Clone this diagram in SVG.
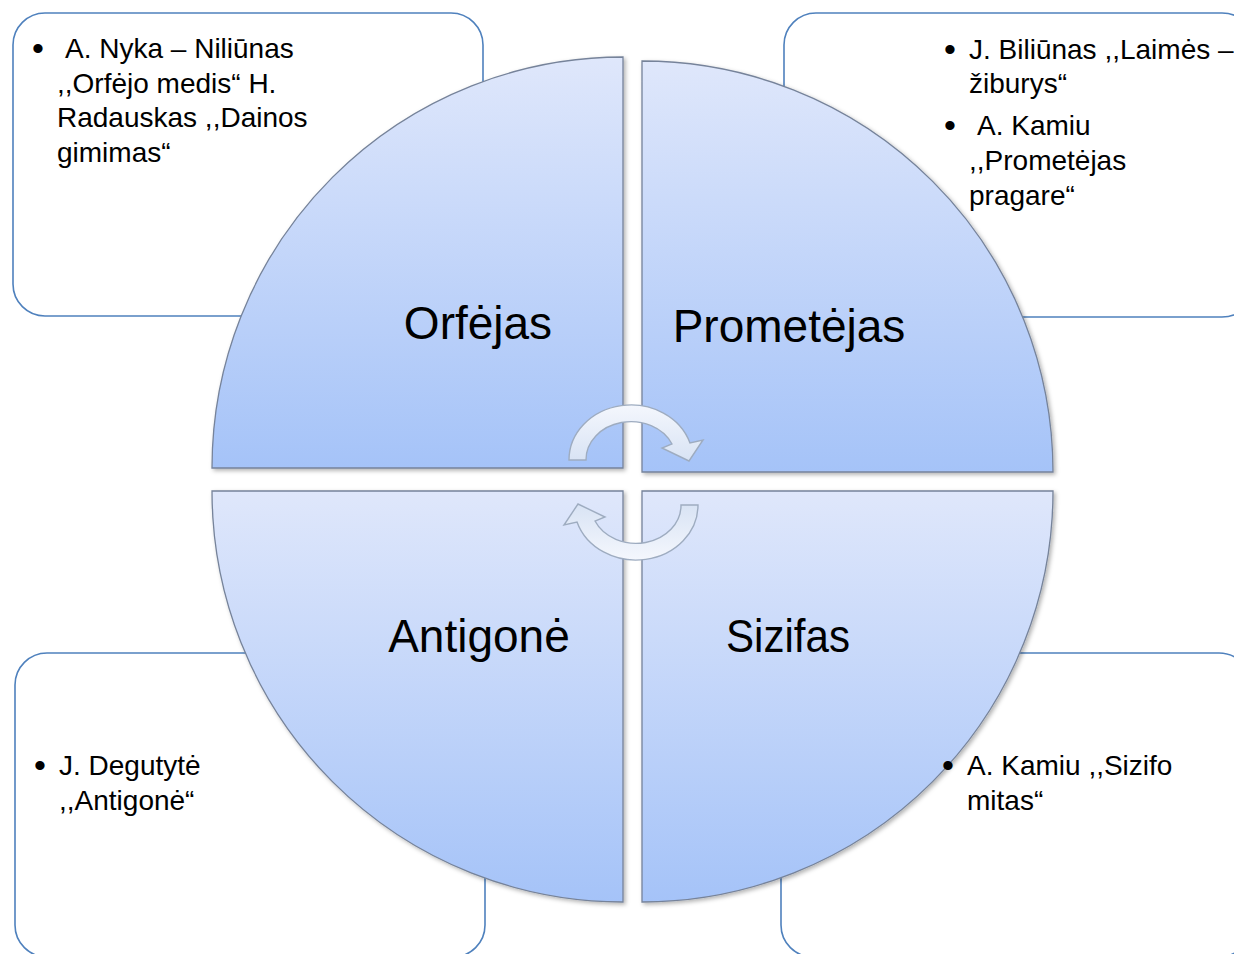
<svg xmlns="http://www.w3.org/2000/svg" width="1234" height="954" viewBox="0 0 1234 954">
<defs>
<linearGradient id="qg" x1="0" y1="0" x2="0" y2="1">
<stop offset="0" stop-color="#dfe7fb"/>
<stop offset="1" stop-color="#a5c3f8"/>
</linearGradient>
<linearGradient id="ag" x1="0" y1="0" x2="0" y2="1">
<stop offset="0" stop-color="#f4f7fd"/>
<stop offset="1" stop-color="#d8e3f4"/>
</linearGradient>
<filter id="sh" x="-5%" y="-5%" width="110%" height="110%">
<feDropShadow dx="2" dy="2" stdDeviation="2" flood-color="#000" flood-opacity="0.3"/>
</filter>
<style>
.box{fill:#fff;stroke:#4f81bd;stroke-width:1.6}
.q{fill:url(#qg);stroke:#76839a;stroke-width:1.3;filter:url(#sh)}
.arr{fill:url(#ag);stroke:#9eacc0;stroke-width:1.4}
.lbl{font-family:"Liberation Sans",Arial,sans-serif;font-size:46px;fill:#000;text-anchor:middle}
.t{font-family:"Liberation Sans",Arial,sans-serif;font-size:28px;fill:#000}
.b{font-family:"Liberation Sans",Arial,sans-serif;font-size:34px;fill:#000}
</style>
</defs>
<g id="box-orfejas"><rect class="box" x="13" y="13" width="470" height="303" rx="32"/></g>
<g id="box-prometejas"><rect class="box" x="784" y="13" width="470" height="304" rx="32"/></g>
<g id="box-antigone"><rect class="box" x="15" y="653" width="470" height="304" rx="32"/></g>
<g id="box-sizifas"><rect class="box" x="781" y="653" width="470" height="304" rx="32"/></g>
<g id="node-orfejas">
<path class="q" d="M623,468 L212,468 A411,411 0 0 1 623,57 Z"/>
<text class="lbl" x="478" y="339">Orfėjas</text>
</g>
<g id="node-prometejas">
<path class="q" d="M642,472 L642,61 A411,411 0 0 1 1053,472 Z"/>
<text class="lbl" x="789" y="342">Prometėjas</text>
</g>
<g id="node-antigone">
<path class="q" d="M623,491 L623,902 A411,411 0 0 1 212,491 Z"/>
<text class="lbl" x="479" y="652">Antigonė</text>
</g>
<g id="node-sizifas">
<path class="q" d="M642,491 L1053,491 A411,411 0 0 1 642,902 Z"/>
<text class="lbl" x="788" y="652" textLength="124" lengthAdjust="spacingAndGlyphs">Sizifas</text>
</g>
<g id="connectors">
<path id="arrow-top" class="arr" d="M569,460 A62,55 0 0 1 690,443 L703,440 L689,461 L662,448 L672,444 A45,38 0 0 0 586,460 Z"/>
<path id="arrow-bottom" class="arr" d="M569,460 A62,55 0 0 1 690,443 L703,440 L689,461 L662,448 L672,444 A45,38 0 0 0 586,460 Z" transform="rotate(180 633.5 482.5)"/>
</g>
<g id="text-orfejas">
<text class="b" x="32" y="60">•</text>
<text class="t" x="65" y="58">A. Nyka – Niliūnas</text>
<text class="t" x="57" y="93">,,Orfėjo medis“ H.</text>
<text class="t" x="57" y="127">Radauskas ,,Dainos</text>
<text class="t" x="57" y="162">gimimas“</text>
</g>
<g id="text-prometejas">
<text class="b" x="944" y="61">•</text>
<text class="t" x="969" y="59">J. Biliūnas ,,Laimės –</text>
<text class="t" x="969" y="93">žiburys“</text>
<text class="b" x="944" y="137">•</text>
<text class="t" x="977" y="135">A. Kamiu</text>
<text class="t" x="969" y="170">,,Prometėjas</text>
<text class="t" x="969" y="205">pragare“</text>
</g>
<g id="text-antigone">
<text class="b" x="34" y="777">•</text>
<text class="t" x="59" y="775">J. Degutytė</text>
<text class="t" x="59" y="810">,,Antigonė“</text>
</g>
<g id="text-sizifas">
<text class="b" x="942" y="777">•</text>
<text class="t" x="967" y="775">A. Kamiu ,,Sizifo</text>
<text class="t" x="967" y="810">mitas“</text>
</g>
</svg>
